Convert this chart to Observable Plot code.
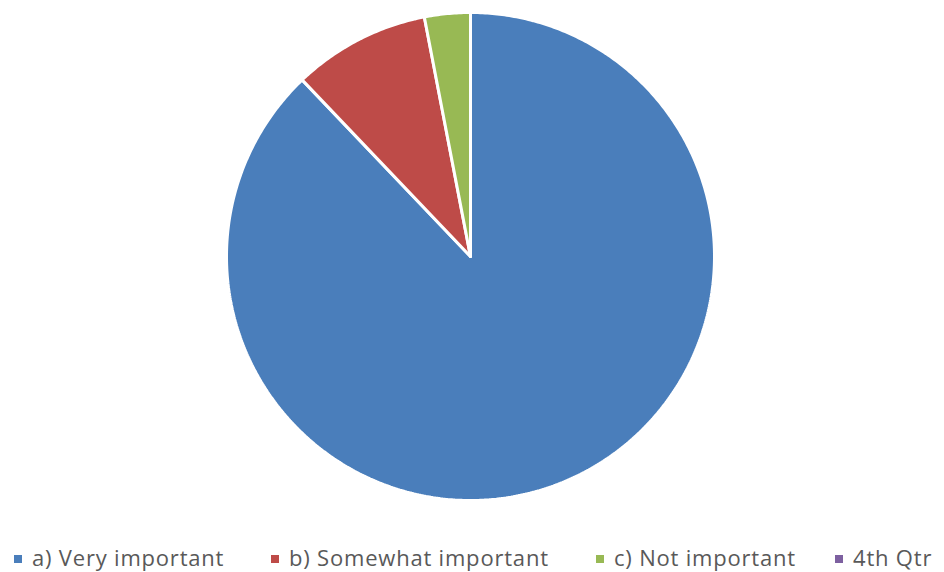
<!DOCTYPE html>
<html>
<head>
<meta charset="utf-8">
<script src="https://cdn.jsdelivr.net/npm/d3@7"></script>
<script src="https://cdn.jsdelivr.net/npm/@observablehq/plot@0.6"></script>
<style>
  body { margin: 0; background: #fff; width: 944px; height: 572px; position: relative; overflow: hidden; font-family: "Open Sans", Lato, sans-serif; }
  #chart { position: absolute; left: 0; top: 0; }
  .leg { position: absolute; top: 542px; font-size: 22px; letter-spacing: 0.8px; color: #595959; white-space: nowrap; line-height: 30px; }
  .sw { display: inline-block; width: 8px; height: 8px; margin-right: 10px; vertical-align: 3px; }
</style>
</head>
<body>
<div id="chart"></div>
<div id="legend"></div>
<script>
const categories = ["a) Very important", "b) Somewhat important", "c) Not important", "4th Qtr"];
const values = [29, 3, 1, 0];
const colors = ["#4A7EBB", "#BE4B48", "#98B954", "#7D60A0"];
const legendX = [14, 271, 596, 835];

const pie = d3.pie().sort(null).value(d => d.value);
const arcs = pie(categories.map((c, i) => ({ key: c, value: values[i] })));

// build closed slice outlines (center -> arc -> center) in unit coordinates
const pts = [];
arcs.forEach(a => {
  if (a.endAngle - a.startAngle <= 0) return;
  const k = a.data.key;
  pts.push({ key: k, x: 0, y: 0 });
  const n = Math.max(2, Math.ceil((a.endAngle - a.startAngle) / 0.01));
  for (let j = 0; j <= n; j++) {
    const t = a.startAngle + (a.endAngle - a.startAngle) * j / n;
    pts.push({ key: k, x: Math.sin(t), y: Math.cos(t) });
  }
  pts.push({ key: k, x: 0, y: 0 });
});

const chart = Plot.plot({
  width: 944,
  height: 520,
  marginLeft: 226,
  marginRight: 230,
  marginTop: 12,
  marginBottom: 20,
  x: { domain: [-1, 1], axis: null },
  y: { domain: [-1, 1], axis: null },
  color: { domain: categories, range: colors },
  marks: [
    Plot.line(pts, { x: "x", y: "y", z: "key", fill: "key", stroke: "white", strokeWidth: 3, strokeLinejoin: "miter", curve: "linear" })
  ]
});
document.getElementById("chart").appendChild(chart);

const leg = document.getElementById("legend");
categories.forEach((c, i) => {
  const d = document.createElement("div");
  d.className = "leg";
  d.style.left = legendX[i] + "px";
  d.innerHTML = `<span class="sw" style="background:${colors[i]}"></span>${c}`;
  leg.appendChild(d);
});
</script>
</body>
</html>
